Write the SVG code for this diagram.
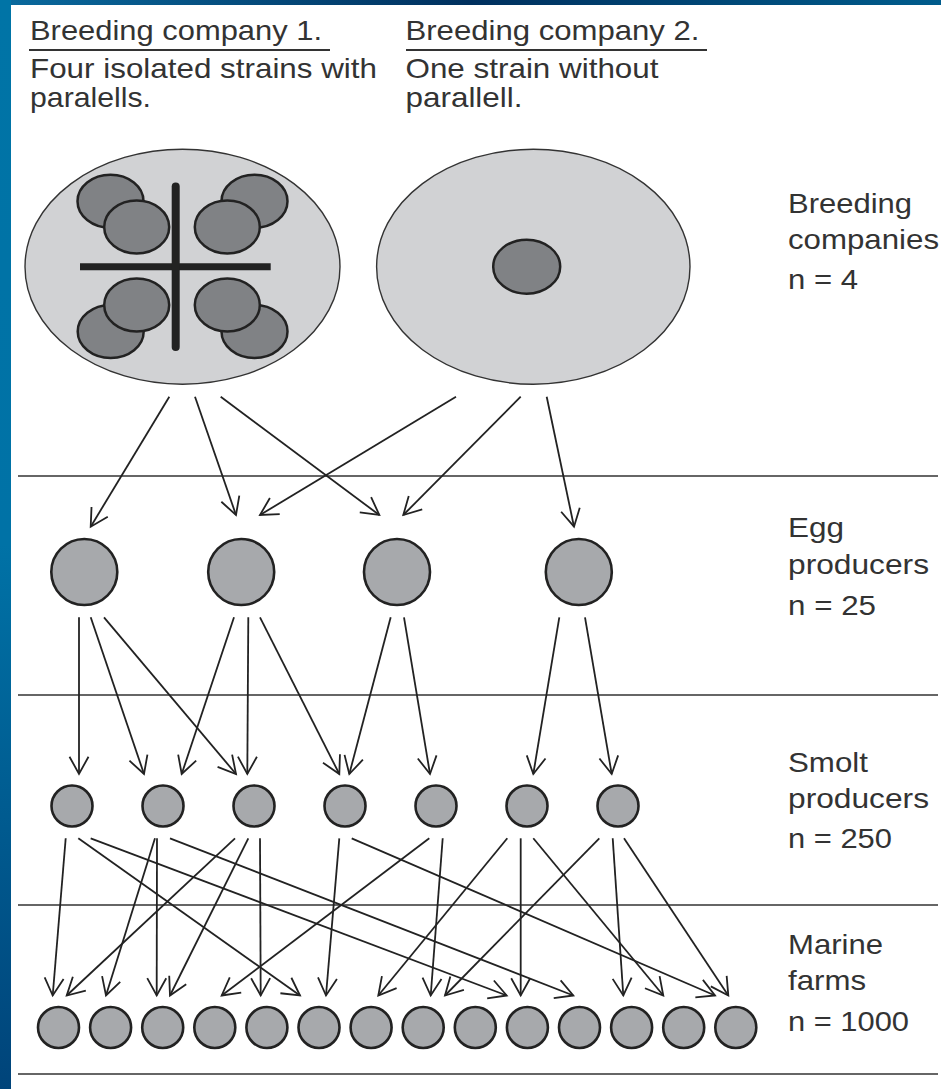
<svg xmlns="http://www.w3.org/2000/svg" width="941" height="1089" viewBox="0 0 941 1089">
<defs>
<linearGradient id="gTop" x1="0" y1="0" x2="1" y2="0">
<stop offset="0" stop-color="#0a6a9e"/><stop offset="0.5" stop-color="#00305e"/><stop offset="1" stop-color="#005c8c"/>
</linearGradient>
<linearGradient id="gLeft" x1="0" y1="0" x2="0" y2="1">
<stop offset="0" stop-color="#0074a6"/><stop offset="0.5" stop-color="#0072a6"/><stop offset="1" stop-color="#00447a"/>
</linearGradient>
<marker id="ah" markerUnits="userSpaceOnUse" markerWidth="26" markerHeight="26" viewBox="-20 -13 22 26" refX="0" refY="0" orient="auto">
<path d="M-17.3,-9.5 L0,0 L-17.3,9.5" fill="none" stroke="#222" stroke-width="1.8"/>
</marker>
<style>
.t{font-family:"Liberation Sans",Arial,Helvetica,sans-serif;font-size:28px;fill:#333}
.sep{stroke:#333;stroke-width:1.6}
.big{fill:#d1d2d4;stroke:#333;stroke-width:1.4}
.strain{fill:#808285;stroke:#222;stroke-width:2.5}
.node{fill:#a7a9ac;stroke:#222;stroke-width:2.6}
.c{fill:none;stroke:#222;stroke-width:1.8;marker-end:url(#ah)}
</style>
</defs>
<rect x="0" y="0" width="941" height="1089" fill="#fff"/>
<rect x="0" y="0" width="941" height="5" fill="url(#gTop)"/>
<rect x="0" y="0" width="11" height="1089" fill="url(#gLeft)"/>

<g id="header1">
<text class="t" x="30" y="39.5" textLength="292" lengthAdjust="spacingAndGlyphs">Breeding company 1.</text>
<line x1="29" y1="50" x2="330" y2="50" stroke="#333" stroke-width="1.8"/>
<text class="t" x="30" y="78" textLength="347" lengthAdjust="spacingAndGlyphs">Four isolated strains with</text>
<text class="t" x="30" y="107" textLength="121" lengthAdjust="spacingAndGlyphs">paralells.</text>
</g>
<g id="header2">
<text class="t" x="405.5" y="39.5" textLength="294" lengthAdjust="spacingAndGlyphs">Breeding company 2.</text>
<line x1="406" y1="50" x2="707" y2="50" stroke="#333" stroke-width="1.8"/>
<text class="t" x="405.5" y="78" textLength="253" lengthAdjust="spacingAndGlyphs">One strain without</text>
<text class="t" x="405.5" y="107" textLength="117" lengthAdjust="spacingAndGlyphs">parallell.</text>
</g>

<g id="separators">
<line class="sep" x1="18" y1="476" x2="938" y2="476"/>
<line class="sep" x1="18" y1="695" x2="938" y2="695"/>
<line class="sep" x1="18" y1="905" x2="938" y2="905"/>
<line class="sep" x1="18" y1="1074" x2="938" y2="1074"/>
</g>

<g id="labels">
<text class="t" x="788" y="213" textLength="124" lengthAdjust="spacingAndGlyphs">Breeding</text>
<text class="t" x="788" y="249" textLength="151" lengthAdjust="spacingAndGlyphs">companies</text>
<text class="t" x="788" y="289" textLength="70" lengthAdjust="spacingAndGlyphs">n = 4</text>
<text class="t" x="788" y="537" textLength="56" lengthAdjust="spacingAndGlyphs">Egg</text>
<text class="t" x="788" y="573.5" textLength="141" lengthAdjust="spacingAndGlyphs">producers</text>
<text class="t" x="788" y="615" textLength="88" lengthAdjust="spacingAndGlyphs">n = 25</text>
<text class="t" x="788" y="771.5" textLength="80" lengthAdjust="spacingAndGlyphs">Smolt</text>
<text class="t" x="788" y="807.5" textLength="141" lengthAdjust="spacingAndGlyphs">producers</text>
<text class="t" x="788" y="848" textLength="104" lengthAdjust="spacingAndGlyphs">n = 250</text>
<text class="t" x="788" y="954" textLength="95" lengthAdjust="spacingAndGlyphs">Marine</text>
<text class="t" x="788" y="990" textLength="78" lengthAdjust="spacingAndGlyphs">farms</text>
<text class="t" x="788" y="1030.5" textLength="121" lengthAdjust="spacingAndGlyphs">n = 1000</text>
</g>

<g id="bc1">
<ellipse class="big" cx="182.5" cy="266.7" rx="157.5" ry="117.5"/>
<ellipse class="strain" cx="110.5" cy="201.3" rx="33" ry="26.5"/>
<ellipse class="strain" cx="254.5" cy="201.3" rx="33" ry="26.5"/>
<ellipse class="strain" cx="110.7" cy="331.5" rx="33" ry="26.5"/>
<ellipse class="strain" cx="254.5" cy="331.5" rx="33" ry="26.5"/>
<ellipse class="strain" cx="136.7" cy="227" rx="32.5" ry="26.5"/>
<ellipse class="strain" cx="227.3" cy="227" rx="32.5" ry="26.5"/>
<ellipse class="strain" cx="136.7" cy="305" rx="32.5" ry="26.5"/>
<ellipse class="strain" cx="227.3" cy="305" rx="32.5" ry="26.5"/>
<line x1="80" y1="266.7" x2="270.7" y2="266.7" stroke="#222" stroke-width="7"/>
<line x1="175.7" y1="186.5" x2="175.7" y2="347" stroke="#222" stroke-width="8" stroke-linecap="round"/>
</g>
<g id="bc2">
<ellipse class="big" cx="533.3" cy="266.7" rx="156.7" ry="117.5"/>
<ellipse class="strain" cx="526.7" cy="266.7" rx="33.5" ry="27"/>
</g>

<g id="egg">
<circle id="egg1" class="node" cx="84.3" cy="572" r="33" stroke-width="3"/>
<circle id="egg2" class="node" cx="241.2" cy="572" r="33" stroke-width="3"/>
<circle id="egg3" class="node" cx="397" cy="572" r="33" stroke-width="3"/>
<circle id="egg4" class="node" cx="578.8" cy="572" r="33" stroke-width="3"/>
</g>

<g id="smolt">
<circle id="smolt1" class="node" cx="72" cy="806" r="20.5"/>
<circle id="smolt2" class="node" cx="163" cy="806" r="20.5"/>
<circle id="smolt3" class="node" cx="254" cy="806" r="20.5"/>
<circle id="smolt4" class="node" cx="345" cy="806" r="20.5"/>
<circle id="smolt5" class="node" cx="436" cy="806" r="20.5"/>
<circle id="smolt6" class="node" cx="527" cy="806" r="20.5"/>
<circle id="smolt7" class="node" cx="618" cy="806" r="20.5"/>
</g>

<g id="marine">
<circle id="m1" class="node" cx="58.5" cy="1027.5" r="20.5"/>
<circle id="m2" class="node" cx="110.6" cy="1027.5" r="20.5"/>
<circle id="m3" class="node" cx="162.7" cy="1027.5" r="20.5"/>
<circle id="m4" class="node" cx="214.8" cy="1027.5" r="20.5"/>
<circle id="m5" class="node" cx="266.9" cy="1027.5" r="20.5"/>
<circle id="m6" class="node" cx="319" cy="1027.5" r="20.5"/>
<circle id="m7" class="node" cx="371.1" cy="1027.5" r="20.5"/>
<circle id="m8" class="node" cx="423.2" cy="1027.5" r="20.5"/>
<circle id="m9" class="node" cx="475.3" cy="1027.5" r="20.5"/>
<circle id="m10" class="node" cx="527.4" cy="1027.5" r="20.5"/>
<circle id="m11" class="node" cx="579.5" cy="1027.5" r="20.5"/>
<circle id="m12" class="node" cx="631.6" cy="1027.5" r="20.5"/>
<circle id="m13" class="node" cx="683.7" cy="1027.5" r="20.5"/>
<circle id="m14" class="node" cx="735.8" cy="1027.5" r="20.5"/>
</g>

<g id="connectors">
<path class="c" d="M169.3,396.7 L90.7,526.7"/>
<path class="c" d="M195,396.7 L236,515"/>
<path class="c" d="M220.7,396.7 L379.3,515"/>
<path class="c" d="M456,396.7 L260,515"/>
<path class="c" d="M520.7,396.7 L403.3,515"/>
<path class="c" d="M546.7,396.7 L574,526.7"/>

<path class="c" d="M79,617.3 L79,774"/>
<path class="c" d="M90.7,617.3 L144,774"/>
<path class="c" d="M104,617.3 L236,774"/>
<path class="c" d="M234,617.3 L181.7,774"/>
<path class="c" d="M248.3,617.3 L247.3,774"/>
<path class="c" d="M260,617.3 L339.3,774"/>
<path class="c" d="M390.7,617.3 L349.3,774"/>
<path class="c" d="M404,617.3 L430,774"/>
<path class="c" d="M559.3,617.3 L533.3,774"/>
<path class="c" d="M585,617.3 L611.7,774"/>

<path class="c" d="M65.7,838.3 L52.7,995.5"/>
<path class="c" d="M78.3,838.3 L300,995.5"/>
<path class="c" d="M90.7,838.3 L506.7,995.5"/>
<path class="c" d="M155,838.3 L106,995.5"/>
<path class="c" d="M157,838.3 L156.7,995.5"/>
<path class="c" d="M170,838.3 L573.3,995.5"/>
<path class="c" d="M235,838.3 L66.7,995.5"/>
<path class="c" d="M248.3,838.3 L170,995.5"/>
<path class="c" d="M260,838.3 L260.7,995.5"/>
<path class="c" d="M339.3,838.3 L326,995.5"/>
<path class="c" d="M351.7,838.3 L715,995.5"/>
<path class="c" d="M429.3,838.3 L221.7,995.5"/>
<path class="c" d="M442.7,838.3 L430.7,995.5"/>
<path class="c" d="M507.3,838.3 L378.3,995.5"/>
<path class="c" d="M520.7,838.3 L520.7,995.5"/>
<path class="c" d="M533.3,838.3 L663.3,995.5"/>
<path class="c" d="M599.3,838.3 L445,995.5"/>
<path class="c" d="M612.7,838.3 L623.3,995.5"/>
<path class="c" d="M624,838.3 L728.3,995.5"/>
</g>
</svg>
